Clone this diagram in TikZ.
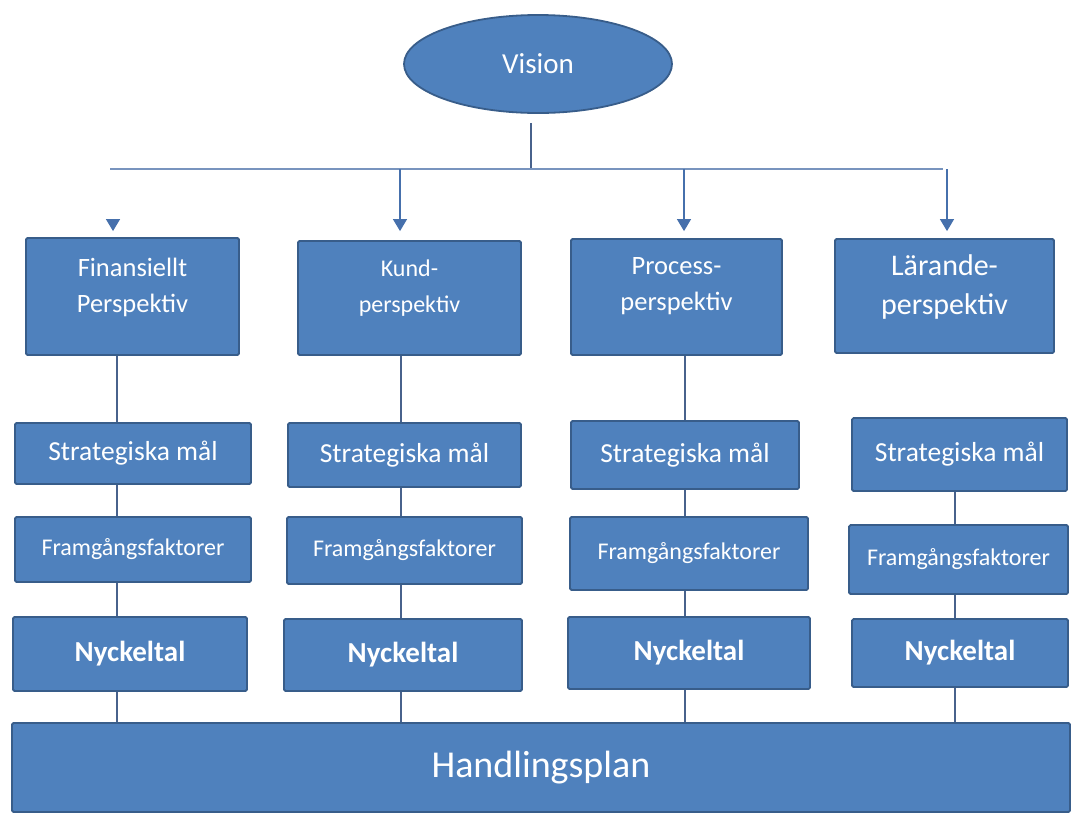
\documentclass[tikz,border=0pt]{standalone}
\usepackage{fontspec}
\setmainfont{Carlito}
\usetikzlibrary{arrows.meta,shapes.geometric}

\definecolor{boxfill}{RGB}{79,129,189}
\definecolor{boxline}{RGB}{56,93,138}
\definecolor{linkline}{RGB}{72,98,140}
\definecolor{busline}{RGB}{120,148,190}
\definecolor{tipcol}{RGB}{70,112,172}

\begin{document}
\begin{tikzpicture}[x=1pt,y=-1pt,>={Triangle[width=14pt,length=12pt]},
        box/.style={draw=boxline,fill=boxfill,line width=1.8pt,rounded corners=1.5pt,
          text=white,align=center,inner sep=2pt},
        persp/.style={font=\fontsize{26.5}{36}\selectfont,text depth=23pt},
        smal/.style={font=\fontsize{27.5}{30}\selectfont},
        fakt/.style={font=\fontsize{24}{28}\selectfont},
        nyck/.style={font=\bfseries\fontsize{29}{30}\selectfont},
        link/.style={draw=linkline,line width=1.3pt},
        bus/.style={draw=busline,line width=2.4pt},
        drop/.style={->,draw=tipcol,line width=1.3pt}]

  \useasboundingbox (0,0) rectangle (1073,815);

  \node[ellipse,box,minimum width=268pt,minimum height=98pt,
        font=\fontsize{29}{30}\selectfont] (vision) at (538,64) {Vision};

  % perspektiv
  \node[box,persp,minimum width=213pt,minimum height=117pt] (fin) at (132.5,296.5) {Finansiellt\\Perspektiv};
  \node[box,persp,minimum width=223pt,minimum height=114pt,font=\fontsize{24}{36}\selectfont] (kund) at (409.5,298) {Kund-\\perspektiv};
  \node[box,persp,minimum width=211pt,minimum height=116pt,text depth=27pt] (process) at (676.5,297) {Process-\\perspektiv};
  \node[box,persp,minimum width=219pt,minimum height=114pt,font=\fontsize{30}{39}\selectfont] (larande) at (944.5,296) {Lärande-\\perspektiv};

  % strategiska mal
  \node[box,smal,minimum width=236pt,minimum height=61pt] (sm1) at (133,453.5) {Strategiska mål};
  \node[box,smal,minimum width=233pt,minimum height=64pt] (sm2) at (404.5,455) {Strategiska mål};
  \node[box,smal,minimum width=228pt,minimum height=68pt] (sm3) at (685,455) {Strategiska mål};
  \node[box,smal,minimum width=215pt,minimum height=73pt] (sm4) at (959.5,454.5) {Strategiska mål};

  % framgangsfaktorer
  \node[box,fakt,minimum width=236pt,minimum height=65pt] (fg1) at (133,549.5) {Framgångsfaktorer};
  \node[box,fakt,minimum width=235pt,minimum height=67pt] (fg2) at (404.5,550.5) {Framgångsfaktorer};
  \node[box,fakt,minimum width=238pt,minimum height=73pt] (fg3) at (689,553.5) {Framgångsfaktorer};
  \node[box,fakt,minimum width=219pt,minimum height=69pt] (fg4) at (958.5,559.5) {Framgångsfaktorer};

  % nyckeltal
  \node[box,nyck,minimum width=234pt,minimum height=74pt] (ny1) at (130,654) {Nyckeltal};
  \node[box,nyck,minimum width=238pt,minimum height=72pt] (ny2) at (403,655) {Nyckeltal};
  \node[box,nyck,minimum width=242pt,minimum height=72pt] (ny3) at (689,653) {Nyckeltal};
  \node[box,nyck,minimum width=216pt,minimum height=68pt] (ny4) at (960,653) {Nyckeltal};

  \node[box,minimum width=1058pt,minimum height=89pt,
        font=\fontsize{38}{40}\selectfont] (plan) at (541,767.5) {Handlingsplan};

  \coordinate (top) at (531,169);
  \coordinate (busL) at (110,169);
  \coordinate (busR) at (943,169);
  \coordinate (d1) at (113,220);
  \coordinate (d2) at (400,169);
  \coordinate (d3) at (684,169);
  \coordinate (d4) at (947,169);
  \coordinate (x1) at (117,0);
  \coordinate (x2) at (401,0);
  \coordinate (x3) at (685,0);
  \coordinate (x4) at (955,0);

  \draw[link,shorten <=9pt] (vision.south -| top) -- (top);
  \draw[bus] (busL) -- (busR);

  \draw[drop,shorten >=6pt] (d1) -- (d1 |- fin.north);
  \draw[drop,shorten >=9pt] (d2) -- (d2 |- kund.north);
  \draw[drop,shorten >=7pt] (d3) -- (d3 |- process.north);
  \draw[drop,shorten >=7pt] (d4) -- (d4 |- larande.north);

  \draw[link] (fin.south -| x1) edge (sm1.north -| x1)
              (sm1.south -| x1) edge (fg1.north -| x1)
              (fg1.south -| x1) edge (ny1.north -| x1)
              (ny1.south -| x1) edge (plan.north -| x1)
              (kund.south -| x2) edge (sm2.north -| x2)
              (sm2.south -| x2) edge (fg2.north -| x2)
              (fg2.south -| x2) edge (ny2.north -| x2)
              (ny2.south -| x2) edge (plan.north -| x2)
              (process.south -| x3) edge (sm3.north -| x3)
              (sm3.south -| x3) edge (fg3.north -| x3)
              (fg3.south -| x3) edge (ny3.north -| x3)
              (ny3.south -| x3) edge (plan.north -| x3)
              (sm4.south -| x4) edge (fg4.north -| x4)
              (fg4.south -| x4) edge (ny4.north -| x4)
              (ny4.south -| x4) edge (plan.north -| x4);

\end{tikzpicture}
\end{document}
